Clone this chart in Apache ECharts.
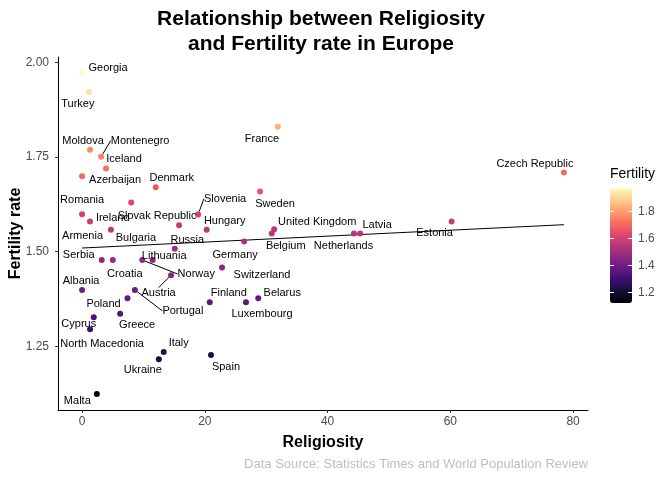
<!DOCTYPE html>
<html>
<head>
<meta charset="utf-8">
<script src="https://cdn.jsdelivr.net/npm/echarts@6/dist/echarts.min.js"></script>
<style>
html, body { margin: 0; padding: 0; background: #fff; }
#chart { width: 672px; height: 480px; }
</style>
</head>
<body>
<div id="chart"></div>
<script>
// values
var countries = ['Georgia', 'Turkey', 'Moldova', 'Montenegro', 'Iceland', 'Azerbaijan', 'Denmark',
    'France', 'Czech Republic', 'Romania', 'Armenia', 'Ireland', 'Bulgaria', 'Slovak Republic',
    'Slovenia', 'Hungary', 'Russia', 'Sweden', 'United Kingdom', 'Belgium', 'Netherlands', 'Latvia',
    'Estonia', 'Germany', 'Switzerland', 'Serbia', 'Croatia', 'Norway', 'Lithuania', 'Austria',
    'Albania', 'Portugal', 'Poland', 'Finland', 'Luxembourg', 'Belarus', 'Greece', 'Cyprus',
    'North Macedonia', 'Italy', 'Ukraine', 'Spain', 'Malta'];
var religiosity = [0, 1.1, 1.3, 3.1, 3.9, 0, 12.0,
    31.9, 78.5, 0, 1.3, 8.0, 4.7, 15.8,
    18.9, 20.3, 15.1, 29.0, 31.3, 30.9, 44.3, 45.3,
    60.2, 26.4, 22.8, 3.2, 5.0, 9.8, 11.5, 14.5,
    0, 8.6, 7.4, 20.8, 26.7, 28.7, 6.2, 1.9,
    1.3, 13.3, 12.5, 21.0, 2.4];
var fertility = [1.972, 1.922, 1.769, 1.751, 1.720, 1.699, 1.670,
    1.830, 1.709, 1.599, 1.580, 1.630, 1.558, 1.570,
    1.598, 1.558, 1.508, 1.659, 1.559, 1.548, 1.548, 1.548,
    1.580, 1.527, 1.458, 1.478, 1.478, 1.478, 1.478, 1.438,
    1.399, 1.399, 1.377, 1.366, 1.366, 1.377, 1.336, 1.327,
    1.295, 1.235, 1.216, 1.227, 1.124];
var xTicks = [0, 20, 40, 60, 80];
var yTicks = [1.25, 1.50, 1.75, 2.00];
var legendTicks = [1.2, 1.4, 1.6, 1.8];

// where each text label sits relative to its point (dx, dy in px)
var labelShift = {
    'Georgia': [26, -5], 'Turkey': [-11, 12], 'Moldova': [-7, -9], 'Montenegro': [39, -16],
    'Iceland': [18, -9], 'Azerbaijan': [33, 4], 'Denmark': [16, -9], 'France': [-16, 12],
    'Czech Republic': [-29, -9], 'Romania': [0, -14], 'Armenia': [-7.5, 15], 'Ireland': [-18.5, 16],
    'Bulgaria': [25, 8], 'Slovak Republic': [-22, -9], 'Slovenia': [27, -16], 'Hungary': [18, -9],
    'Russia': [12.5, -9], 'Sweden': [15, 12], 'United Kingdom': [43, -7], 'Belgium': [14, 12],
    'Netherlands': [-10.5, 12], 'Latvia': [17, -9], 'Estonia': [-17, 12], 'Germany': [-9, 14],
    'Switzerland': [40, 7], 'Serbia': [-23, -5], 'Croatia': [12, 14], 'Norway': [54, 14],
    'Lithuania': [11.5, -4], 'Austria': [-12.5, 18], 'Albania': [-1, -9], 'Portugal': [48, 21],
    'Poland': [-24, 6], 'Finland': [19, -9], 'Luxembourg': [16, 12], 'Belarus': [24, -5],
    'Greece': [17, 11], 'Cyprus': [-15, 7], 'North Macedonia': [12, 15], 'Italy': [15, -9],
    'Ukraine': [-16, 11], 'Spain': [15, 12], 'Malta': [-19.5, 7]
};
var withSegment = ['Montenegro', 'Slovenia', 'Norway', 'Austria', 'Portugal'];

var magma = ['#000004', '#140E36', '#3B0F70', '#641A80', '#8C2981', '#B73779',
    '#DE4968', '#F7705C', '#FE9F6D', '#FECF92', '#FCFDBF'];
var font = 'Liberation Sans, Arial, sans-serif';

function extent(arr) {
    return [Math.min.apply(null, arr), Math.max.apply(null, arr)];
}
// ggplot style 5% padding
function expand(ext) {
    var d = (ext[1] - ext[0]) * 0.05;
    return [ext[0] - d, ext[1] + d];
}
function linearFit(xs, ys) {
    var n = xs.length, sx = 0, sy = 0, sxx = 0, sxy = 0;
    for (var i = 0; i < n; i++) {
        sx += xs[i]; sy += ys[i];
        sxx += xs[i] * xs[i]; sxy += xs[i] * ys[i];
    }
    var b = (n * sxy - sx * sy) / (n * sxx - sx * sx);
    return { a: (sy - b * sx) / n, b: b };
}

var xExt = extent(religiosity);
var yExt = extent(fertility);
var xRange = expand(xExt);
var yRange = expand(yExt);
var fit = linearFit(religiosity, fertility);
var fitLine = [
    [xExt[0], fit.a + fit.b * xExt[0]],
    [xExt[1], fit.a + fit.b * xExt[1]]
];

var points = [];
for (var i = 0; i < countries.length; i++) {
    var item = { name: countries[i], value: [religiosity[i], fertility[i]] };
    if (withSegment.indexOf(countries[i]) >= 0) {
        item.labelLine = { show: true };
    }
    points.push(item);
}

var chart = echarts.init(document.getElementById('chart'));
var option = {
    backgroundColor: '#fff',
    animation: false,
    title: {
        text: 'Relationship between Religiosity\nand Fertility rate in Europe',
        left: 316,
        top: 2,
        textAlign: 'center',
        textStyle: { fontFamily: font, fontSize: 21, fontWeight: 'bold', color: '#000', lineHeight: 25 }
    },
    grid: [
        { left: 58, top: 57, width: 530, height: 353, outerBoundsMode: 'none', containLabel: false },
        { left: 610, top: 188, width: 22, height: 115, outerBoundsMode: 'none', containLabel: false }
    ],
    xAxis: [{
        type: 'value',
        min: xRange[0],
        max: xRange[1],
        name: 'Religiosity',
        nameLocation: 'middle',
        nameGap: 25,
        nameTextStyle: { fontFamily: font, fontSize: 16, fontWeight: 'bold', color: '#000' },
        axisLine: { onZero: false, lineStyle: { color: '#000', width: 1 } },
        axisTick: { customValues: xTicks, length: 3, lineStyle: { color: '#333' } },
        axisLabel: { customValues: xTicks, margin: 6, fontFamily: font, fontSize: 12, color: '#4D4D4D' },
        splitLine: { show: false }
    }, {
        gridIndex: 1, type: 'value', min: 0, max: 1, show: false
    }],
    yAxis: [{
        type: 'value',
        min: yRange[0],
        max: yRange[1],
        name: 'Fertility rate',
        nameLocation: 'middle',
        nameGap: 34,
        nameMoveOverlap: false,
        nameTextStyle: { fontFamily: font, fontSize: 16, fontWeight: 'bold', color: '#000' },
        axisLine: { show: true, onZero: false, lineStyle: { color: '#000', width: 1 } },
        axisTick: { show: true, customValues: yTicks, length: 3, lineStyle: { color: '#333' } },
        axisLabel: {
            customValues: yTicks, margin: 9, fontFamily: font, fontSize: 12, color: '#4D4D4D',
            formatter: function (v) { return v.toFixed(2); }
        },
        splitLine: { show: false }
    }, {
        gridIndex: 1, type: 'value', position: 'left', min: yExt[0], max: yExt[1], z: 10,
        axisLine: { show: false },
        axisTick: { show: true, inside: true, length: 4, customValues: legendTicks, lineStyle: { color: '#fff' } },
        axisLabel: { show: false },
        splitLine: { show: false }
    }, {
        gridIndex: 1, type: 'value', position: 'right', min: yExt[0], max: yExt[1], z: 10,
        axisLine: { show: false },
        axisTick: { show: true, inside: true, length: 4, customValues: legendTicks, lineStyle: { color: '#fff' } },
        axisLabel: {
            customValues: legendTicks, margin: 6, fontFamily: font, fontSize: 12, color: '#4D4D4D',
            formatter: function (v) { return v.toFixed(1); }
        },
        splitLine: { show: false }
    }],
    visualMap: {
        type: 'continuous',
        seriesIndex: 0,
        dimension: 1,
        min: yExt[0],
        max: yExt[1],
        left: 610,
        top: 188,
        itemWidth: 22,
        itemHeight: 115,
        padding: 0,
        calculable: false,
        hoverLink: false,
        text: null,
        showLabel: false,
        inRange: { color: magma }
    },
    graphic: [{
        type: 'text',
        left: 610,
        top: 167,
        style: { text: 'Fertility', fontFamily: font, fontSize: 14, fill: '#000' }
    }, {
        type: 'text',
        right: 84,
        top: 458,
        style: {
            text: 'Data Source: Statistics Times and World Population Review',
            fontFamily: font, fontSize: 13, fill: '#BEBEBE'
        }
    }],
    series: [{
        type: 'scatter',
        data: points,
        symbolSize: 6,
        z: 3,
        itemStyle: { opacity: 1 },
        label: {
            show: true,
            position: 'inside',
            formatter: '{b}',
            fontFamily: font,
            fontSize: 11,
            color: '#000'
        },
        labelLine: { show: false, length2: 0, lineStyle: { color: '#000', width: 1 } },
        labelLayout: function (params) {
            var s = labelShift[countries[params.dataIndex]] || [0, 0];
            return { dx: s[0], dy: s[1], hideOverlap: false };
        },
        emphasis: { disabled: true }
    }, {
        type: 'line',
        data: fitLine,
        symbol: 'none',
        z: 2,
        lineStyle: { color: '#000', width: 1 },
        silent: true
    }]
};
chart.setOption(option);
</script>
</body>
</html>
